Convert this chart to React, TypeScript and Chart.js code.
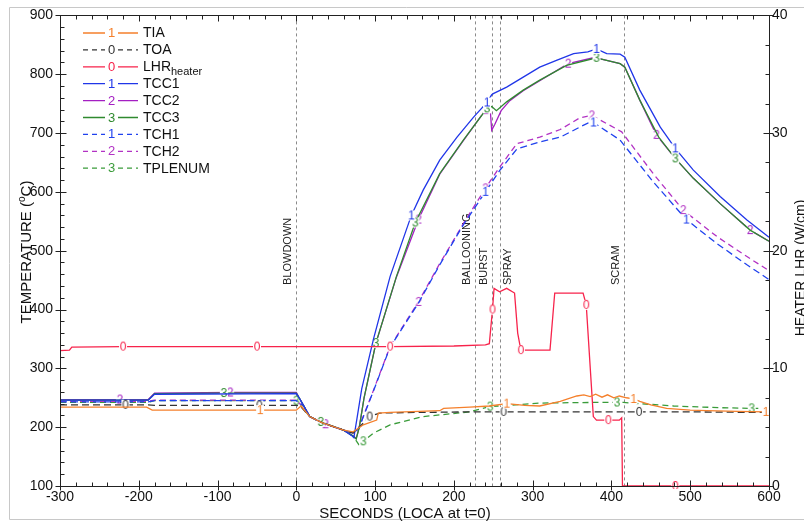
import React, { useEffect, useRef } from 'react';
import { Chart, registerables } from 'chart.js';
Chart.register(...registerables);

const FONT = '"Liberation Sans", Arial, Helvetica, sans-serif';

// ---- data (time in s, temperature in °C, LHR in W/cm) ----
const TIA_T = [-300, -190, -183, -100, -46, 0, 6, 17, 26, 34, 60, 72, 85, 102, 104, 119, 182, 187, 220, 245, 267, 290, 309, 335, 356, 365, 373, 380, 388, 395, 403, 410, 419, 428, 436, 450, 470, 500, 521, 560, 596, 600];
const TIA_V = [234, 234, 229, 229, 229, 229, 236, 218, 212, 207, 195, 192, 204, 212, 224, 225, 228, 232, 234, 236, 240, 237, 236, 244, 253, 255, 252, 256, 251, 255, 250, 253, 250, 248, 244, 238, 232, 229, 228, 227, 226, 226];
const TIA_M = [-46, 267, 428, 596];

const TOA_T = [-300, -217, -188, -180, -47, 0, 5, 17, 26, 34, 60, 72, 80, 93, 106, 150, 220, 263, 300, 400, 435, 500, 600];
const TOA_V = [238, 238, 238, 237, 237, 237, 236, 218, 212, 207, 195, 190, 200, 218, 224, 225, 226, 226, 226, 226, 226, 226, 225];
const TOA_M = [-217, -47, 93, 263, 435];

const LHR_T = [-300, -288, -285, -220, -50, 0, 119, 200, 240, 245, 249, 251, 258, 267, 277, 281, 285, 322, 328, 364, 368, 377, 381, 396, 410, 413, 414, 481, 600];
const LHR_V = [11.5, 11.55, 11.8, 11.85, 11.85, 11.85, 11.85, 11.9, 12.0, 12.1, 15.0, 16.8, 16.5, 16.8, 16.4, 13.0, 11.55, 11.55, 16.4, 16.4, 15.4, 5.9, 5.6, 5.6, 5.6, 5.8, 0, 0, 0];
const LHR_M = [-220, -50, 119, 249, 285, 368, 396, 481];

const TCC1_T = [-300, -188, -180, 0, 4, 9, 17, 26, 34, 60, 70, 73, 77, 83, 98, 119, 146, 161, 182, 204, 225, 242, 248, 250, 267, 288, 309, 331, 352, 370, 381, 394, 411, 417, 436, 462, 481, 504, 538, 572, 600];
const TCC1_V = [246, 246, 256, 257, 249, 237, 218, 212, 207, 195, 186, 182, 215, 265, 350, 456, 560, 603, 654, 693, 727, 752, 765, 767, 778, 795, 812, 824, 835, 838, 843, 835, 834, 829, 773, 710, 674, 637, 592, 552, 523];
const TCC1_M = [146, 242, 381, 481];

const TCC2_T = [-300, -224, -188, -180, -84, 0, 4, 9, 17, 26, 37, 60, 72, 76, 80, 86, 101, 127, 155, 182, 212, 240, 242, 246, 248, 252, 260, 271, 288, 309, 345, 377, 386, 411, 417, 436, 457, 481, 504, 538, 576, 600];
const TCC2_V = [247, 247, 247, 258, 259, 259, 249, 237, 218, 212, 205, 195, 185, 181, 201, 250, 343, 455, 553, 630, 687, 739, 740, 742, 705, 715, 738, 755, 772, 789, 818, 828, 826, 818, 812, 756, 697, 657, 623, 580, 535, 516];
const TCC2_M = [-224, -84, 37, 155, 240, 345, 457, 576];

const TCC3_T = [-300, -188, -180, -92, 0, 4, 9, 17, 26, 31, 60, 72, 76, 80, 86, 101, 127, 151, 182, 212, 242, 248, 254, 267, 288, 309, 343, 381, 386, 411, 417, 436, 460, 481, 504, 538, 576, 600];
const TCC3_V = [246, 246, 257, 258, 258, 249, 237, 218, 212, 209, 195, 185, 180, 200, 250, 343, 456, 548, 631, 688, 742, 745, 738, 753, 773, 790, 815, 828, 826, 818, 812, 756, 693, 657, 623, 580, 535, 516];
const TCC3_M = [-92, 31, 101, 151, 242, 381, 481];

const TCH1_T = [-300, -188, -180, 0, 4, 9, 17, 26, 34, 60, 72, 79, 98, 119, 155, 182, 212, 240, 258, 280, 309, 335, 370, 377, 386, 411, 453, 495, 534, 572, 600];
const TCH1_V = [243, 243, 245, 245, 240, 237, 218, 212, 207, 195, 190, 197, 262, 336, 411, 476, 544, 600, 636, 673, 685, 693, 717, 718, 710, 688, 617, 553, 512, 476, 451];
const TCH1_M = [240, 377, 495];

const TCH2_T = [-300, -188, -180, 0, 4, 9, 17, 26, 34, 60, 72, 79, 98, 119, 155, 182, 212, 240, 258, 280, 309, 335, 360, 375, 386, 413, 453, 491, 534, 572, 600];
const TCH2_V = [244, 244, 246, 246, 240, 237, 218, 212, 207, 195, 190, 198, 263, 337, 413, 478, 546, 606, 642, 682, 693, 706, 726, 730, 722, 702, 631, 569, 524, 490, 466];
const TCH2_M = [155, 240, 375, 491];

const TPL_T = [-300, -188, -180, 0, 5, 17, 26, 34, 60, 72, 81, 85, 98, 119, 161, 220, 246, 309, 373, 407, 415, 479, 540, 578, 600];
const TPL_V = [242, 242, 245, 245, 238, 218, 212, 207, 195, 185, 167, 176, 190, 204, 218, 226, 235, 241, 242, 242, 242, 236, 233, 232, 232];
const TPL_M = [0, 85, 246, 407, 578];

const EVENT_T = [0, 227, 248, 259, 416];
const EVENT_LABELS = ['BLOWDOWN', 'BALLOONING', 'BURST', 'SPRAY', 'SCRAM'];
const EVENT_SIDE = [-1, -1, -1, 1, -1];

const SERIES = [
  { label: 'TIA', t: TIA_T, v: TIA_V, m: TIA_M, ch: '1', color: '#f5802c', dash: [], axis: 'y', order: 0 },
  { label: 'TOA', t: TOA_T, v: TOA_V, m: TOA_M, ch: '0', color: '#333333', dash: [7, 4], axis: 'y', order: 0 },
  { label: 'LHR', sub: 'heater', t: LHR_T, v: LHR_V, m: LHR_M, ch: '0', color: '#f7234b', dash: [], axis: 'y1', order: 0 },
  { label: 'TCC1', t: TCC1_T, v: TCC1_V, m: TCC1_M, ch: '1', color: '#2036e8', dash: [], axis: 'y', order: 0 },
  { label: 'TCC2', t: TCC2_T, v: TCC2_V, m: TCC2_M, ch: '2', color: '#a41fc2', dash: [], axis: 'y', order: 1 },
  { label: 'TCC3', t: TCC3_T, v: TCC3_V, m: TCC3_M, ch: '3', color: '#2f8a2f', dash: [], axis: 'y', order: 0 },
  { label: 'TCH1', t: TCH1_T, v: TCH1_V, m: TCH1_M, ch: '1', color: '#2042ee', dash: [7, 4], axis: 'y', order: 0 },
  { label: 'TCH2', t: TCH2_T, v: TCH2_V, m: TCH2_M, ch: '2', color: '#b232c4', dash: [6, 4], axis: 'y', order: 0 },
  { label: 'TPLENUM', t: TPL_T, v: TPL_V, m: TPL_M, ch: '3', color: '#3a9c3a', dash: [6, 4], axis: 'y', order: 0 },
];

function glyph(ch: string, color: string) {
  const c = document.createElement('canvas');
  c.width = 10;
  c.height = 12;
  const g = c.getContext('2d')!;
  g.fillStyle = '#ffffff';
  g.fillRect(1, 1, 8, 10);
  g.font = `12px ${FONT}`;
  g.fillStyle = color;
  g.textAlign = 'center';
  g.textBaseline = 'middle';
  g.fillText(ch, 5, 6.5);
  return c;
}

const px = (v: number) => Math.round(v) + 0.5;

const decorPlugin = {
  id: 'decor',
  beforeDatasetsDraw(chart: any) {
    const { ctx, chartArea: a, scales } = chart;
    ctx.save();
    ctx.strokeStyle = '#8a8a8a';
    ctx.lineWidth = 1;
    ctx.setLineDash([3, 3]);
    EVENT_T.forEach((t) => {
      const x = px(scales.x.getPixelForValue(t));
      ctx.beginPath();
      ctx.moveTo(x, a.top);
      ctx.lineTo(x, a.bottom);
      ctx.stroke();
    });
    ctx.setLineDash([]);
    ctx.fillStyle = '#222';
    ctx.font = `11px ${FONT}`;
    ctx.textAlign = 'left';
    ctx.textBaseline = 'middle';
    EVENT_T.forEach((t, i) => {
      const x = scales.x.getPixelForValue(t) + EVENT_SIDE[i] * 8;
      ctx.save();
      ctx.translate(x, 285);
      ctx.rotate(-Math.PI / 2);
      ctx.fillText(EVENT_LABELS[i], 0, 0);
      ctx.restore();
    });
    ctx.restore();
  },
  afterDraw(chart: any) {
    const { ctx, chartArea: a, scales } = chart;
    ctx.save();
    // outer frame
    ctx.strokeStyle = '#c8c8c8';
    ctx.lineWidth = 1;
    ctx.beginPath();
    ctx.moveTo(804, 7.5);
    ctx.lineTo(9.5, 7.5);
    ctx.lineTo(9.5, 519.5);
    ctx.lineTo(804, 519.5);
    ctx.stroke();

    // axes box
    ctx.strokeStyle = '#222';
    const L = px(a.left), R = px(a.right), T = px(a.top), B = px(a.bottom);
    ctx.beginPath();
    ctx.moveTo(L, T); ctx.lineTo(R, T);
    ctx.moveTo(L, B); ctx.lineTo(R, B);
    ctx.moveTo(L, T); ctx.lineTo(L, B);
    ctx.moveTo(R, T); ctx.lineTo(R, B);
    ctx.stroke();

    ctx.beginPath();
    for (let v = -300; v <= 600; v += 20) {
      const x = px(scales.x.getPixelForValue(v));
      const major = v % 100 === 0;
      ctx.moveTo(x, B - (major ? 6 : 4));
      ctx.lineTo(x, B + (major ? 4 : 0));
      ctx.moveTo(x, T);
      ctx.lineTo(x, T + (major ? 6 : 4));
    }
    for (let v = 100; v <= 900; v += 20) {
      const y = px(scales.y.getPixelForValue(v));
      const major = v % 100 === 0;
      ctx.moveTo(L - (major ? 5 : 0), y);
      ctx.lineTo(L + (major ? 6 : 4), y);
    }
    for (let v = 0; v <= 40; v += 2.5) {
      const y = px(scales.y1.getPixelForValue(v));
      const major = v % 10 === 0;
      ctx.moveTo(R - (major ? 6 : 4), y);
      ctx.lineTo(R + (major ? 4 : 0), y);
    }
    ctx.stroke();

    // axis titles
    ctx.fillStyle = '#111';
    ctx.font = `15px ${FONT}`;
    ctx.textAlign = 'center';
    ctx.textBaseline = 'alphabetic';
    ctx.fillText('SECONDS (LOCA at t=0)', 405, 518);

    // left title with superscript
    ctx.save();
    ctx.translate(31, 252);
    ctx.rotate(-Math.PI / 2);
    const p1 = 'TEMPERATURE (', p2 = 'o', p3 = 'C)';
    ctx.font = `15px ${FONT}`;
    const w1 = ctx.measureText(p1).width;
    const w3 = ctx.measureText(p3).width;
    ctx.font = `10px ${FONT}`;
    const w2 = ctx.measureText(p2).width;
    let sx = -(w1 + w2 + w3) / 2;
    ctx.textAlign = 'left';
    ctx.font = `15px ${FONT}`;
    ctx.fillText(p1, sx, 0);
    sx += w1;
    ctx.font = `10px ${FONT}`;
    ctx.fillText(p2, sx, -6);
    sx += w2;
    ctx.font = `15px ${FONT}`;
    ctx.fillText(p3, sx, 0);
    ctx.restore();

    // right title (clipped at the canvas edge)
    ctx.save();
    ctx.translate(805, 268);
    ctx.rotate(-Math.PI / 2);
    ctx.font = `14px ${FONT}`;
    ctx.textAlign = 'center';
    ctx.fillText('HEATER LHR (W/cm)', 0, 0);
    ctx.restore();

    // legend
    const items = chart.data.datasets;
    items.forEach((ds: any, i: number) => {
      const s = SERIES[i];
      const y = 33 + i * 16.9;
      ctx.strokeStyle = s.color;
      ctx.lineWidth = 1.3;
      ctx.setLineDash(s.dash.length ? [5, 4] : []);
      ctx.beginPath();
      ctx.moveTo(83, y); ctx.lineTo(105, y);
      ctx.moveTo(118, y); ctx.lineTo(138, y);
      ctx.stroke();
      ctx.setLineDash([]);
      ctx.fillStyle = s.color;
      ctx.font = `13px ${FONT}`;
      ctx.textAlign = 'center';
      ctx.textBaseline = 'middle';
      ctx.fillText(s.ch, 111.5, y + 0.5);
      ctx.fillStyle = '#111';
      ctx.textAlign = 'left';
      ctx.font = `14px ${FONT}`;
      ctx.fillText(ds.label, 143, y + 0.5);
      if (s.sub) {
        const w = ctx.measureText(ds.label).width;
        ctx.font = `11px ${FONT}`;
        ctx.fillText(s.sub, 143 + w, y + 5.5);
      }
    });
    ctx.restore();
  },
};

export default function App() {
  const ref = useRef<HTMLCanvasElement | null>(null);
  useEffect(() => {
    if (!ref.current) return;
    const datasets = SERIES.map((s) => {
      const img = glyph(s.ch, s.color);
      return {
        label: s.label,
        data: s.t.map((t, i) => ({ x: t, y: s.v[i] })),
        yAxisID: s.axis,
        order: s.order,
        borderColor: s.color,
        backgroundColor: s.color,
        borderWidth: 1.3,
        borderDash: s.dash,
        tension: 0,
        fill: false,
        pointStyle: img,
        pointRadius: (c: any) => (c.raw && s.m.includes(c.raw.x) ? 5 : 0),
        pointHoverRadius: 0,
        clip: 3,
      };
    });
    const tickFont = { family: FONT, size: 14 };
    const chart = new Chart(ref.current, {
      type: 'line',
      data: { datasets } as any,
      plugins: [decorPlugin],
      options: {
        animation: false,
        responsive: false,
        events: [],
        layout: { padding: { top: 15, left: 0, right: 0, bottom: 0 } },
        plugins: { legend: { display: false }, tooltip: { enabled: false } },
        scales: {
          x: {
            type: 'linear',
            min: -300,
            max: 600,
            grid: { display: false, drawTicks: false },
            border: { display: false },
            ticks: { stepSize: 100, font: tickFont, color: '#111', padding: 3, maxRotation: 0, autoSkip: false },
            afterFit: (s: any) => { s.height = 39; },
          },
          y: {
            type: 'linear',
            position: 'left',
            min: 100,
            max: 900,
            grid: { display: false, drawTicks: false },
            border: { display: false },
            ticks: { stepSize: 100, font: tickFont, color: '#111', padding: 7 },
            afterFit: (s: any) => { s.width = 60; },
          },
          y1: {
            type: 'linear',
            position: 'right',
            min: 0,
            max: 40,
            grid: { display: false, drawTicks: false },
            border: { display: false },
            ticks: { stepSize: 10, font: tickFont, color: '#111', padding: 3 },
            afterFit: (s: any) => { s.width = 35; },
          },
        },
      } as any,
    });
    return () => chart.destroy();
  }, []);
  return (
    <div style={{ position: 'fixed', left: 0, top: 0, width: 804, height: 525, background: '#fff' }}>
      <canvas ref={ref} width={804} height={525} style={{ display: 'block' }} />
    </div>
  );
}
